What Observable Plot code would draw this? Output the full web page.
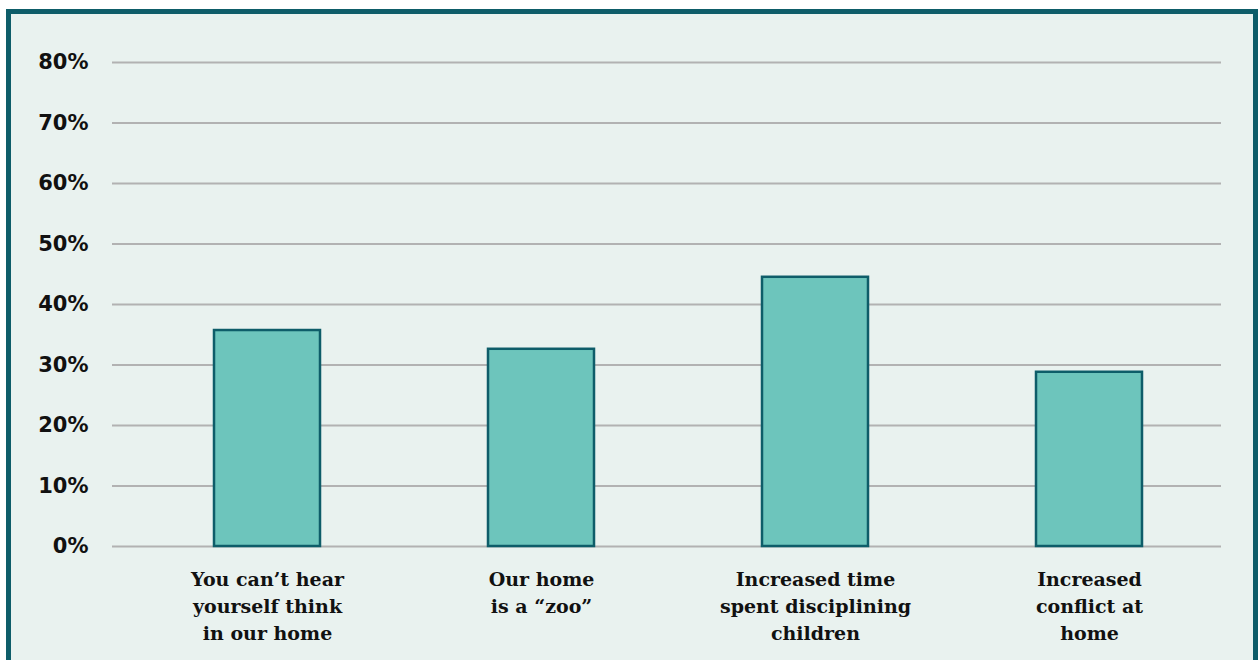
<!DOCTYPE html>
<html>
<head>
<meta charset="utf-8">
<script src="https://cdn.jsdelivr.net/npm/d3@7"></script>
<script src="https://cdn.jsdelivr.net/npm/@observablehq/plot@0.6"></script>
<style>
  html, body { margin: 0; padding: 0; background: #ffffff; overflow: hidden; }
  #box {
    position: absolute; left: 6px; top: 9px;
    width: 1242px; height: 660px;
    border: 5px solid #0e5d69;
    background: #e9f2ef;
    overflow: hidden;
  }
  #box svg { display: block; background: transparent; }
</style>
</head>
<body>
<div id="box"></div>
<script>
const categories = ["c1", "c2", "c3", "c4"];
const labels = [
  "You can\u2019t hear\nyourself think\nin our home",
  "Our home\nis a \u201czoo\u201d",
  "Increased time\nspent disciplining\nchildren",
  "Increased\nconflict at\nhome"
];
const values = [35.7, 32.6, 44.5, 28.8];
const yTicks = [0, 10, 20, 30, 40, 50, 60, 70, 80];

const data = categories.map((c, i) => ({cat: c, label: labels[i], value: values[i]}));

const chart = Plot.plot({
  width: 1242,
  height: 646,
  marginLeft: 101,
  marginRight: 32,
  marginTop: 48,
  marginBottom: 114,
  style: {background: "transparent"},
  x: {domain: categories, range: [202.6, 1130.9], paddingInner: 0.6133, paddingOuter: 0, axis: null},
  y: {domain: [0, 80], axis: null},
  marks: [
    Plot.ruleY(yTicks, {stroke: "#b2b2b2", strokeWidth: 2}),
    Plot.barY(data, {x: "cat", y: "value", fill: "#6dc5bc", stroke: "#0e5d69", strokeWidth: 2.5}),
    Plot.axisY(yTicks, {
      tickSize: 0, tickPadding: 24, label: null,
      tickFormat: d => d + "%",
      fontFamily: "DejaVu Sans", fontSize: 21, fontWeight: "bold", fill: "#111"
    }),
    Plot.text(data, {
      x: "cat", y: () => 0, text: "label",
      lineAnchor: "top", dy: 20, lineHeight: 1.42,
      fontFamily: "DejaVu Serif", fontSize: 19, fontWeight: "bold", fill: "#111"
    })
  ]
});
document.getElementById("box").appendChild(chart);
</script>
</body>
</html>
